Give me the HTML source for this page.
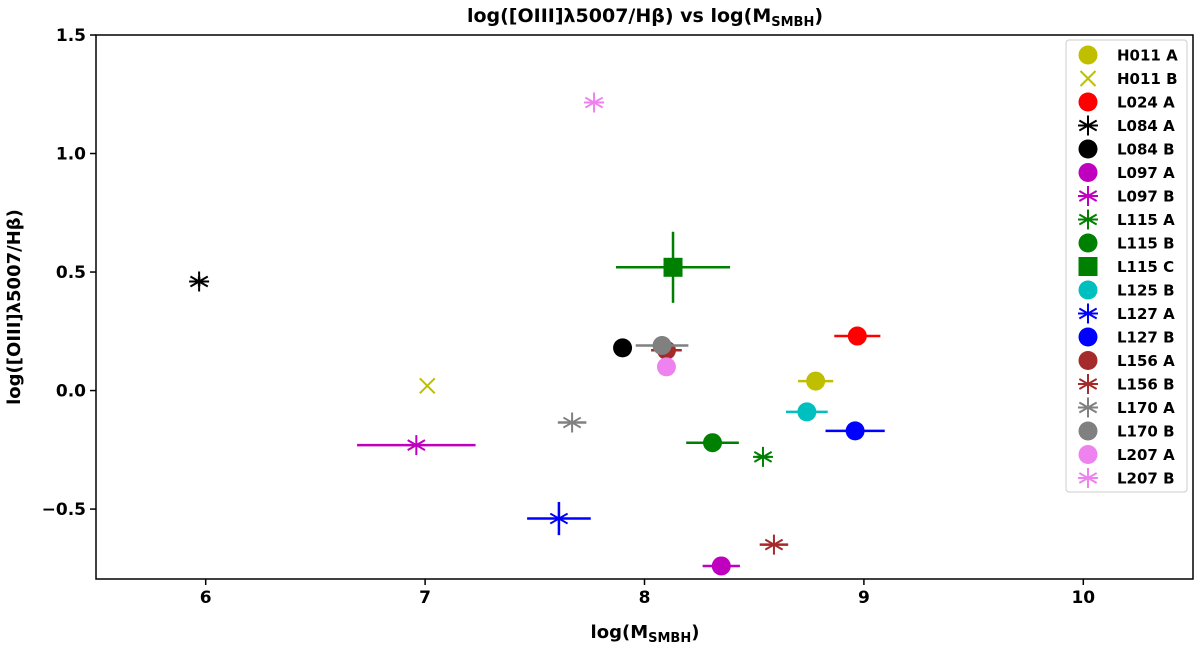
<!DOCTYPE html>
<html><head><meta charset="utf-8"><style>
body{margin:0;background:#fff;font-family:"Liberation Sans","DejaVu Sans",sans-serif}
svg text{font-family:"DejaVu Sans","Liberation Sans",sans-serif;font-weight:bold}
</style></head><body>
<svg id="c" width="1200" height="646" xmlns="http://www.w3.org/2000/svg"></svg>
<script>
const labels=["H011 A","H011 B","L024 A","L084 A","L084 B","L097 A","L097 B","L115 A","L115 B","L115 C","L125 B","L127 A","L127 B","L156 A","L156 B","L170 A","L170 B","L207 A","L207 B"];
const colors=["#bfbf00","#bfbf00","#ff0000","#000000","#000000","#bf00bf","#bf00bf","#008000","#008000","#008000","#00bfbf","#0000ff","#0000ff","#a52a2a","#a52a2a","#808080","#808080","#ee82ee","#ee82ee"];
const markers=["o","x","o","*","o","o","*","*","o","s","o","*","o","o","*","*","o","o","*"];
const xVals=[8.78,7.01,8.97,5.97,7.90,8.35,6.96,8.54,8.31,8.13,8.74,7.61,8.96,8.10,8.59,7.67,8.08,8.10,7.77];
const yVals=[0.04,0.02,0.23,0.46,0.18,-0.74,-0.23,-0.28,-0.22,0.52,-0.09,-0.54,-0.17,0.17,-0.65,-0.135,0.19,0.10,1.215];
const xErr=[0.08,0,0.105,0.02,0,0.085,0.27,0.03,0.12,0.26,0.095,0.145,0.135,0.07,0.065,0.065,0.12,0,0];
const yErr=[0,0,0,0.02,0,0,0,0,0,0.15,0,0.07,0,0,0,0,0,0,0];
const xTicks=[6,7,8,9,10];
const yTicks=[-0.5,0.0,0.5,1.0,1.5];
const yTickLabels=["\u22120.5","0.0","0.5","1.0","1.5"];
const L=96,R=1193,T=35,B=579,X0=5.5,X1=10.5,Y0=-0.795,Y1=1.5;
const sx=v=>L+(v-X0)/(X1-X0)*(R-L), sy=v=>B-(v-Y0)/(Y1-Y0)*(B-T);
const svg=document.getElementById('c');const NS="http://www.w3.org/2000/svg";
function el(t,a,p){const e=document.createElementNS(NS,t);for(const k in a)e.setAttribute(k,a[k]);(p||svg).appendChild(e);return e;}
function marker(g,m,x,y,c,r){
 if(m==="o")el('circle',{cx:x,cy:y,r:r,fill:c},g);
 else if(m==="s")el('rect',{x:x-r,y:y-r,width:2*r,height:2*r,fill:c},g);
 else if(m==="x"){el('path',{d:`M${x-r*.75} ${y-r*.75}L${x+r*.75} ${y+r*.75}M${x-r*.75} ${y+r*.75}L${x+r*.75} ${y-r*.75}`,stroke:c,'stroke-width':2},g);}
 else {let d="";for(let i=0;i<3;i++){const a=Math.PI/2+i*Math.PI/3;d+=`M${x-r*Math.cos(a)} ${y-r*Math.sin(a)}L${x+r*Math.cos(a)} ${y+r*Math.sin(a)}`;}
 d+=`M${x-r} ${y}L${x+r} ${y}`;el('path',{d:d,stroke:c,'stroke-width':2},g);}
}
// title
let t=el('text',{x:645,y:22,'text-anchor':'middle','font-size':19});

t.innerHTML='log([OIII]λ5007/Hβ) vs log(M<tspan font-size="13" dy="4">SMBH</tspan><tspan dy="-4">)</tspan>';
// axes frame
const fr=el('rect',{x:L,y:T,width:R-L,height:B-T,fill:'none',stroke:'#000','stroke-width':1.5});

xTicks.forEach(v=>{const x=sx(v);el('line',{x1:x,y1:B,x2:x,y2:B+6,stroke:'#000','stroke-width':1.5});
 const tx=el('text',{x:x,y:B+24,'text-anchor':'middle','font-size':17});tx.textContent=v;
 });
yTicks.forEach((v,i)=>{const y=sy(v);el('line',{x1:L-6,y1:y,x2:L,y2:y,stroke:'#000','stroke-width':1.5});
 const tx=el('text',{x:L-10,y:y+6,'text-anchor':'end','font-size':17});tx.textContent=yTickLabels[i];
 });
let xl=el('text',{x:645,y:638,'text-anchor':'middle','font-size':18});

xl.innerHTML='log(M<tspan font-size="13" dy="4">SMBH</tspan><tspan dy="-4">)</tspan>';
let yl=el('text',{x:0,y:0,'text-anchor':'middle','font-size':18,transform:'translate(20,307) rotate(-90)'});

yl.textContent='log([OIII]λ5007/Hβ)';
// points
labels.forEach((lb,i)=>{const g=el('g',{});
 
 const x=sx(xVals[i]),y=sy(yVals[i]),c=colors[i];
 if(xErr[i]>0)el('line',{x1:sx(xVals[i]-xErr[i]),y1:y,x2:sx(xVals[i]+xErr[i]),y2:y,stroke:c,'stroke-width':2.5},g);
 if(yErr[i]>0)el('line',{x1:x,y1:sy(yVals[i]-yErr[i]),x2:x,y2:sy(yVals[i]+yErr[i]),stroke:c,'stroke-width':2.5},g);
 marker(g,markers[i],x,y,c,markers[i]==="s"?9.5:(markers[i]==="o"?9.5:10));
});
// legend
const lg=el('g',{});
el('rect',{x:1066,y:40,width:121,height:452,rx:3,fill:'#fff',stroke:'#ccc','stroke-width':1},lg);
labels.forEach((lb,i)=>{const y=55+i*23.5;const g=el('g',{},lg);
 
 marker(g,markers[i],1088,y,colors[i],markers[i]==="o"?9.5:(markers[i]==="s"?9.5:10));
 const tx=el('text',{x:1117,y:y+5.5,'font-size':15},g);tx.textContent=lb;});
</script>
</body></html>
